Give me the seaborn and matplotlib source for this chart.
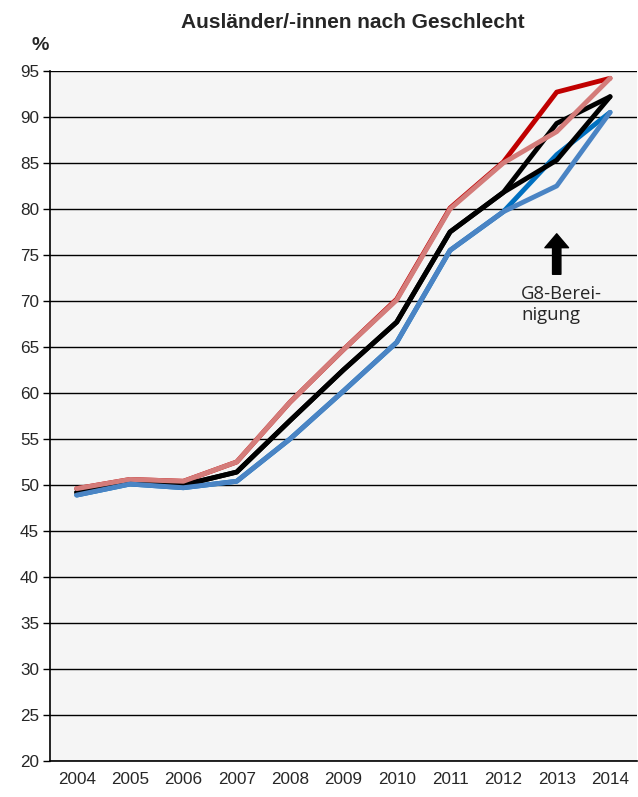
import numpy as np
import pandas as pd
import matplotlib
matplotlib.use("Agg")
import matplotlib.pyplot as plt
import seaborn as sns

years = [2004, 2005, 2006, 2007, 2008, 2009, 2010, 2011, 2012, 2013, 2014]

# Frauen / Gesamt / Maenner, jeweils original und G8-bereinigt
frauen_orig = [49.6, 50.6, 50.4, 52.5, 59.0, 64.7, 70.2, 80.1, 85.1, 92.7, 94.2]
frauen_g8 = [49.6, 50.6, 50.4, 52.5, 59.0, 64.7, 70.1, 80.0, 85.0, 88.4, 94.2]
gesamt_orig = [49.2, 50.2, 50.0, 51.4, 57.0, 62.5, 67.7, 77.5, 81.8, 89.3, 92.2]
gesamt_g8 = [49.2, 50.2, 50.0, 51.4, 57.0, 62.5, 67.7, 77.5, 81.8, 85.3, 92.2]
maenner_orig = [48.9, 50.1, 49.7, 50.4, 55.0, 60.2, 65.5, 75.5, 79.7, 85.9, 90.5]
maenner_g8 = [48.9, 50.1, 49.7, 50.4, 55.0, 60.2, 65.5, 75.5, 79.7, 82.5, 90.5]

y_ticks = list(range(20, 100, 5))

sns.set_theme(style="white")
plt.rcParams['font.family'] = ['Liberation Sans', 'DejaVu Sans']

fig = plt.figure(figsize=(6.38, 7.97), dpi=100)
ax = fig.add_axes([0.0784, 0.0452, 0.9196, 0.8658])
ax.set_facecolor('#f5f5f5')

# drawing order: originals underneath, adjusted lines on top
series = [
    (frauen_orig, '#c00000'),
    (maenner_orig, '#0070c0'),
    (gesamt_orig, 'black'),
    (gesamt_g8, 'black'),
    (frauen_g8, '#d47c7a'),
    (maenner_g8, '#4a84c4'),
]
for vals, col in series:
    sns.lineplot(x=years, y=vals, color=col, lw=3.5, ax=ax, zorder=3)

ax.set_xlim(2003.5, 2014.5)
ax.set_ylim(20, 95)
ax.set_yticks(y_ticks)
ax.set_xticks(years)
ax.set_xticks(np.arange(2003.5, 2015, 1), minor=True)
ax.set_xticklabels([str(y) for y in years], fontsize=12.3)
ax.set_yticklabels([str(v) for v in y_ticks], fontsize=12.3)
ax.tick_params(axis='x', which='major', length=0, pad=8)
ax.tick_params(axis='x', which='minor', length=5, width=1, color='black', direction='out')
ax.tick_params(axis='y', length=5, width=1, color='black', direction='out', left=True, pad=3)
ax.grid(True, axis='y', color='black', lw=1)
ax.set_axisbelow(True)
for s in ['top', 'right']:
    ax.spines[s].set_visible(False)
for s in ['left', 'bottom']:
    ax.spines[s].set_color('black')
    ax.spines[s].set_linewidth(1.2)
ax.set_xlabel('')
ax.set_ylabel('')

# G8 annotation
ax.annotate('', xy=(2013, 77.3), xytext=(2013, 72.9),
            arrowprops=dict(facecolor='black', edgecolor='black', width=6, headwidth=17, headlength=10))
ax.text(2012.33, 69.6, 'G8-Berei-\nnigung', fontsize=13.3, family=['Open Sans', 'DejaVu Sans'],
        ha='left', va='center', linespacing=1.25)

fig.text(0.553, 0.972, 'Ausländer/-innen nach Geschlecht', ha='center', va='center',
         fontsize=15, fontweight='bold')
fig.text(0.063, 0.943, '%', ha='center', va='center', fontsize=14, fontweight='bold')

fig.savefig('out.png', dpi=100)
